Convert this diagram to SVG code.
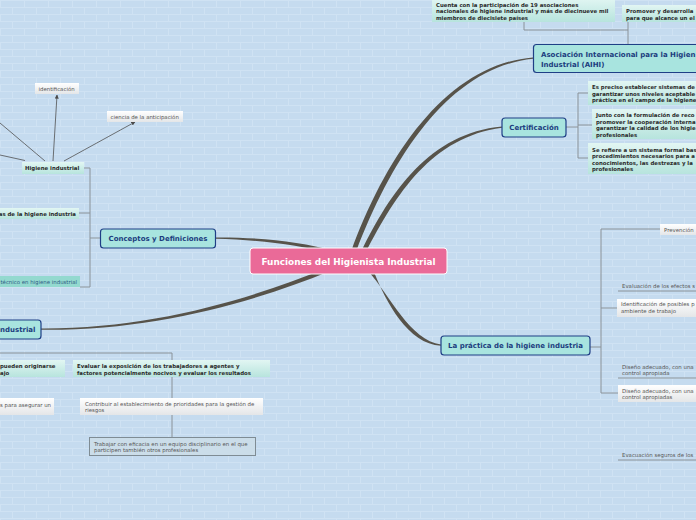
<svg xmlns="http://www.w3.org/2000/svg" width="696" height="520" viewBox="0 0 696 520">
<defs>
<pattern id="brick" width="24" height="14" patternUnits="userSpaceOnUse">
<rect width="24" height="14" fill="#c5dbef"/>
<path d="M0 0.5H24M0 7.5H24M0.5 0V7M12.5 7V14" stroke="#cfe2f3" stroke-width="1" fill="none"/>
</pattern>
<linearGradient id="teal" x1="0" y1="0" x2="0" y2="1">
<stop offset="0" stop-color="#e2f6f3"/>
<stop offset="1" stop-color="#b7e4dd"/>
</linearGradient>
<linearGradient id="white" x1="0" y1="0" x2="0" y2="1">
<stop offset="0" stop-color="#ffffff"/>
<stop offset="1" stop-color="#e4e6e8"/>
</linearGradient>
<marker id="arr" viewBox="0 0 10 10" refX="9" refY="5" markerWidth="5" markerHeight="5" orient="auto">
<path d="M0 0L10 5L0 10Z" fill="#4a4a4a"/>
</marker>
</defs>
<style>
text{font-family:"DejaVu Sans","Liberation Sans",sans-serif}
.main rect{fill:#a8e4df;stroke:#1f3f86;stroke-width:1.2}
.main text{font-size:7px;font-weight:bold;fill:#1c3d7e}
.c{text-anchor:middle}
.sb rect{fill:url(#teal)}
.sb text{font-size:5.4px;font-weight:bold;fill:#2a2a2a}
.sw rect{fill:url(#white)}
.sw text{font-size:5.4px;fill:#555}
.su text{font-size:5.4px;fill:#555}
.thick{fill:#57534a}
.thin{stroke:#8a9298;stroke-width:1;fill:none}
.arrow{stroke:#505050;stroke-width:0.8;fill:none}
</style>
<rect width="696" height="520" fill="url(#brick)"/>

<g id="connectors">
<path class="thick" d="M351 252C388 150 450 64 533 57.4L533 58.8C452 67 394 152 356 252Z"/>
<path class="thick" d="M361 252C390 192 430 133 502 126.4L502 127.8C432 137 396 194 366 252Z"/>
<path class="thick" d="M215 237.4C262 237 300 242 334 250.5L332 253.5C298 245 262 240 215 238.8Z"/>
<path class="thick" d="M41 328.4C150 329 248 300 327 268L330 271C252 303 152 331 41 329.8Z"/>
<path class="thick" d="M369 272C390 296 410 340 441 344.6L441 345.8C408 344 386 302 374 272Z"/>
<path class="thin" d="M90 168V287M83 168H90M79 213H90M80 287H90M90 238H100"/>
<path class="arrow" d="M53 161L57 95" marker-end="url(#arr)"/>
<path class="arrow" d="M64 161L135 122" marker-end="url(#arr)"/>
<path class="arrow" d="M45 161L0 123M25 160.5L0 155"/>
<path class="thin" d="M0 353H172V437"/>
<path class="thin" d="M628 44V22M524 22V30H628"/>
<path class="thin" d="M566 127H578M578 93V158M578 93H588M578 125H592M578 158H588"/>
<path class="thin" d="M590 347H601M601 229V393M601 229H660M601 308H617M601 393H618"/>
<path class="thin" d="M618 291H696M618 378H696M618 460H696"/>
</g>

<g id="central">
<rect x="250" y="248" width="197" height="26" rx="3" fill="#ea6a98" stroke="#ffffff" stroke-width="1"/>
<text x="348.5" y="264.5" text-anchor="middle" font-size="8.9" font-weight="bold" fill="#ffffff">Funciones del Higienista Industrial</text>
</g>

<g id="conceptos" class="main">
<rect x="100.5" y="229" width="115" height="19" rx="3"/>
<text class="c" x="158" y="241">Conceptos y Definiciones</text>
</g>
<g id="industrial" class="main">
<rect x="-10" y="320" width="51" height="19" rx="3"/>
<text x="0" y="332">ndustrial</text>
</g>
<g id="aihi" class="main">
<rect x="533.5" y="44.5" width="180" height="28" rx="3"/>
<text x="541" y="56.5">Asociación Internacional para la Higien</text>
<text x="541" y="66.5">Industrial (AIHI)</text>
</g>
<g id="certificacion" class="main">
<rect x="502" y="118" width="64" height="19" rx="3"/>
<text class="c" x="534" y="130">Certificación</text>
</g>
<g id="practica" class="main">
<rect x="441" y="336" width="149" height="19" rx="3"/>
<text class="c" x="515.5" y="348">La práctica de la higiene industria</text>
</g>

<g id="higiene" class="sb">
<rect x="22" y="162" width="62" height="12"/>
<text x="25" y="170">Higiene industrial</text>
</g>
<g id="identificacion" class="sw">
<rect x="35" y="83" width="44" height="11"/>
<text x="38.5" y="90.5">identificación</text>
</g>
<g id="ciencia" class="sw">
<rect x="107" y="111" width="76" height="11"/>
<text x="110.5" y="118.5">ciencia de la anticipación</text>
</g>
<g id="ramas" class="sb">
<rect x="-5" y="208" width="84" height="11"/>
<text x="76" y="215.5" text-anchor="end">as de la higiene industria</text>
</g>
<g id="tecnico">
<rect x="-5" y="276" width="85" height="11" fill="#93d9cf"/>
<text x="77" y="283.5" text-anchor="end" font-size="5.4" fill="#2f5c86">técnico en higiene industrial</text>
</g>

<g id="originarse" class="sb">
<rect x="-5" y="360" width="70" height="17"/>
<text x="0" y="367.5">pueden originarse</text>
<text x="0" y="374.5">ajo</text>
</g>
<g id="evaluar" class="sb">
<rect x="73" y="360" width="197" height="17"/>
<text x="77" y="367.5">Evaluar la exposición de los trabajadores a agentes y</text>
<text x="77" y="374.5">factores potencialmente nocivos y evaluar los resultados</text>
</g>
<g id="asegurar" class="sw">
<rect x="-5" y="398" width="59" height="17"/>
<text x="0" y="406.5">s para asegurar un</text>
</g>
<g id="contribuir" class="sw">
<rect x="80" y="398" width="183" height="17"/>
<text x="85" y="405.5">Contribuir al establecimiento de prioridades para la gestión de</text>
<text x="85" y="412">riesgos</text>
</g>
<g id="trabajar" class="su">
<rect x="89.5" y="437.5" width="166" height="18" fill="#cbdde9" stroke="#7f8c94" stroke-width="1"/>
<text x="94" y="445.5">Trabajar con eficacia en un equipo disciplinario en el que</text>
<text x="94" y="452">participen también otros profesionales</text>
</g>

<g id="cuenta" class="sb">
<rect x="432" y="-2" width="183" height="24"/>
<text x="436" y="6.5">Cuenta con la participación de 19 asociaciones</text>
<text x="436" y="13">nacionales de higiene industrial y más de diecinueve mil</text>
<text x="436" y="19.5">miembros de diecisiete países</text>
</g>
<g id="promover" class="sb">
<rect x="622" y="5" width="80" height="17"/>
<text x="626" y="13">Promover y desarrolla</text>
<text x="626" y="19.5">para que alcance un el</text>
</g>

<g id="preciso" class="sb">
<rect x="588" y="81" width="112" height="24"/>
<text x="592" y="89">Es preciso establecer sistemas de</text>
<text x="592" y="95.5">garantizar unos niveles aceptable</text>
<text x="592" y="102">práctica en el campo de la higiene</text>
</g>
<g id="junto" class="sb">
<rect x="592" y="109" width="110" height="30"/>
<text x="596" y="117">Junto con la formulación de reco</text>
<text x="596" y="123.5">promover la cooperación interna</text>
<text x="596" y="130">garantizar la calidad de los higie</text>
<text x="596" y="136.5">profesionales</text>
</g>
<g id="refiere" class="sb">
<rect x="588" y="143" width="112" height="31"/>
<text x="592" y="151.5">Se refiere a un sistema formal bas</text>
<text x="592" y="158">procedimientos necesarios para a</text>
<text x="592" y="164.5">conocimientos, las destrezas y la</text>
<text x="592" y="171">profesionales</text>
</g>

<g id="prevencion" class="sw">
<rect x="660" y="224" width="40" height="11"/>
<text x="664" y="231.5">Prevención</text>
</g>
<g id="efectos" class="su">
<text x="622" y="287.5">Evaluación de los efectos s</text>
</g>
<g id="identposibles" class="sw">
<rect x="617" y="299" width="85" height="18"/>
<text x="621" y="306">Identificación de posibles p</text>
<text x="621" y="312.5">ambiente de trabajo</text>
</g>
<g id="diseno1" class="su">
<text x="622" y="368.5">Diseño adecuado, con una</text>
<text x="622" y="375">control apropiada</text>
</g>
<g id="diseno2" class="sw">
<rect x="618" y="385" width="80" height="17"/>
<text x="622" y="392.5">Diseño adecuado, con una</text>
<text x="622" y="399">control apropiadas</text>
</g>
<g id="evacuacion" class="su">
<text x="622" y="456.5">Evacuación seguros de los</text>
</g>
</svg>
